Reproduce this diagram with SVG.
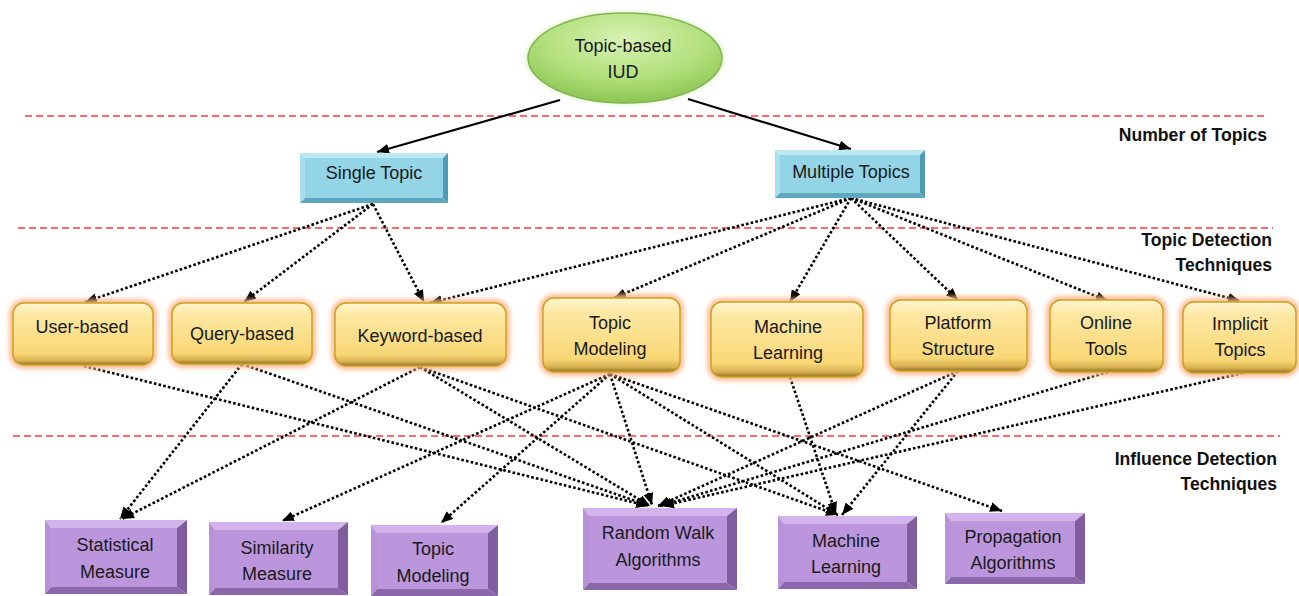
<svg xmlns="http://www.w3.org/2000/svg" width="1299" height="596" viewBox="0 0 1299 596">
<defs>
<linearGradient id="yg" x1="0" y1="0" x2="0" y2="1">
<stop offset="0" stop-color="#fff6d2"/>
<stop offset="0.18" stop-color="#fde8a4"/>
<stop offset="0.82" stop-color="#f8d775"/>
<stop offset="0.93" stop-color="#d9b252"/>
<stop offset="1" stop-color="#8f7028"/>
</linearGradient>
<radialGradient id="gg" cx="0.5" cy="0.3" r="0.7">
<stop offset="0" stop-color="#d8f2b4"/>
<stop offset="0.6" stop-color="#b2e07c"/>
<stop offset="1" stop-color="#8cc653"/>
</radialGradient>
<filter id="blur" x="-20%" y="-20%" width="140%" height="140%"><feGaussianBlur stdDeviation="2.5"/></filter>
<marker id="ah" markerUnits="userSpaceOnUse" markerWidth="13" markerHeight="10" refX="12" refY="5" orient="auto">
<path d="M0,0 L12,5 L0,10 z" fill="#000"/>
</marker>
</defs>
<style>
.t{font-family:"Liberation Sans",Arial,sans-serif;font-size:18px;fill:#1a1a1a;text-anchor:middle}
.lbl{font-family:"Liberation Sans",Arial,sans-serif;font-size:17.6px;font-weight:bold;fill:#111;text-anchor:end}
.sep{stroke:#ff3b3b;stroke-width:1.5;stroke-dasharray:7 4;fill:none}
.glow{fill:none;stroke:#fbb487;stroke-width:7;filter:url(#blur)}
.yb{fill:url(#yg);stroke:#cfa21c;stroke-width:1.5}
.dot{stroke:#000;stroke-width:2.6;stroke-dasharray:2.6 2.2;fill:none;marker-end:url(#ah)}
.sol{stroke:#000;stroke-width:2.2;fill:none;marker-end:url(#ah)}
.pt{fill:#d2b3ec}.pl{fill:#b892d8}.pr{fill:#7f5d9f}.pb{fill:#8a68a9}.pf{fill:#bb96dd}
.bt{fill:#bce8f3}.bl{fill:#a9def0}.br{fill:#4f9bb2}.bb{fill:#5ea8be}.bf{fill:#93d4e6}
</style>

<g id="separators">
<line class="sep" x1="25" y1="116" x2="1265" y2="116"/>
<line class="sep" x1="18" y1="228" x2="1273" y2="228"/>
<line class="sep" x1="13" y1="436" x2="1280" y2="436"/>
</g>

<g id="labels">
<text class="lbl" x="1267" y="141">Number of Topics</text>
<text class="lbl" x="1272" y="246">Topic Detection</text>
<text class="lbl" x="1272" y="271">Techniques</text>
<text class="lbl" x="1277" y="465">Influence Detection</text>
<text class="lbl" x="1277" y="490">Techniques</text>
</g>

<g id="connectors">
<line class="sol" x1="560" y1="100" x2="377" y2="152"/>
<line class="sol" x1="688" y1="99" x2="851" y2="149"/>
<line class="dot" x1="373" y1="204" x2="85" y2="302"/>
<line class="dot" x1="373" y1="204" x2="244" y2="302"/>
<line class="dot" x1="373" y1="204" x2="424" y2="302"/>
<line class="dot" x1="851" y1="198" x2="430" y2="303"/>
<line class="dot" x1="851" y1="198" x2="614" y2="298"/>
<line class="dot" x1="851" y1="198" x2="790" y2="302"/>
<line class="dot" x1="851" y1="198" x2="958" y2="300"/>
<line class="dot" x1="851" y1="198" x2="1108" y2="301"/>
<line class="dot" x1="851" y1="198" x2="1240" y2="301"/>
<line class="dot" x1="84" y1="366" x2="648" y2="506"/>
<line class="dot" x1="242" y1="364" x2="120" y2="519"/>
<line class="dot" x1="242" y1="364" x2="650" y2="506"/>
<line class="dot" x1="420" y1="367" x2="122" y2="519"/>
<line class="dot" x1="420" y1="367" x2="650" y2="506"/>
<line class="dot" x1="420" y1="367" x2="838" y2="515"/>
<line class="dot" x1="610" y1="374" x2="282" y2="521"/>
<line class="dot" x1="610" y1="374" x2="441" y2="523"/>
<line class="dot" x1="610" y1="374" x2="652" y2="505"/>
<line class="dot" x1="610" y1="374" x2="838" y2="515"/>
<line class="dot" x1="610" y1="374" x2="1002" y2="511"/>
<line class="dot" x1="790" y1="377" x2="836" y2="514"/>
<line class="dot" x1="958" y1="371" x2="658" y2="506"/>
<line class="dot" x1="958" y1="371" x2="842" y2="515"/>
<line class="dot" x1="1108" y1="372" x2="660" y2="506"/>
<line class="dot" x1="1243" y1="373" x2="662" y2="506"/>
</g>

<g id="n-root">
<ellipse cx="625" cy="58" rx="99" ry="46" fill="#c8eba0" opacity="0.6" filter="url(#blur)"/>
<ellipse cx="625" cy="58" rx="97" ry="45" fill="url(#gg)" stroke="#7fb450" stroke-width="1.5"/>
<text class="t" x="623" y="52">Topic-based</text>
<text class="t" x="623" y="78">IUD</text>
</g>

<g id="n-single">
<polygon class="bt" points="300,153 448,153 443,158 305,158"/>
<polygon class="bl" points="300,153 305,158 305,198 300,203"/>
<polygon class="br" points="448,153 448,203 443,198 443,158"/>
<polygon class="bb" points="300,203 448,203 443,198 305,198"/>
<rect class="bf" x="305" y="158" width="138" height="40"/>
<text class="t" x="374" y="179">Single Topic</text>
</g>

<g id="n-multiple">
<polygon class="bt" points="775,150 925,150 920,155 780,155"/>
<polygon class="bl" points="775,150 780,155 780,193 775,198"/>
<polygon class="br" points="925,150 925,198 920,193 920,155"/>
<polygon class="bb" points="775,198 925,198 920,193 780,193"/>
<rect class="bf" x="780" y="155" width="140" height="38"/>
<text class="t" x="851" y="178">Multiple Topics</text>
</g>

<g id="n-user">
<rect class="glow" x="13" y="303" width="140" height="62" rx="11"/>
<rect class="yb" x="13" y="303" width="140" height="62" rx="11"/>
<text class="t" x="82" y="333">User-based</text>
</g>
<g id="n-query">
<rect class="glow" x="172" y="303" width="140" height="61" rx="11"/>
<rect class="yb" x="172" y="303" width="140" height="61" rx="11"/>
<text class="t" x="242" y="340">Query-based</text>
</g>
<g id="n-keyword">
<rect class="glow" x="335" y="303" width="171" height="63" rx="11"/>
<rect class="yb" x="335" y="303" width="171" height="63" rx="11"/>
<text class="t" x="420" y="342">Keyword-based</text>
</g>
<g id="n-topicmodeling">
<rect class="glow" x="543" y="298" width="137" height="74" rx="11"/>
<rect class="yb" x="543" y="298" width="137" height="74" rx="11"/>
<text class="t" x="610" y="329">Topic</text>
<text class="t" x="610" y="355">Modeling</text>
</g>
<g id="n-machinelearning">
<rect class="glow" x="711" y="302" width="152" height="75" rx="11"/>
<rect class="yb" x="711" y="302" width="152" height="75" rx="11"/>
<text class="t" x="788" y="333">Machine</text>
<text class="t" x="788" y="359">Learning</text>
</g>
<g id="n-platform">
<rect class="glow" x="890" y="300" width="137" height="71" rx="11"/>
<rect class="yb" x="890" y="300" width="137" height="71" rx="11"/>
<text class="t" x="958" y="329">Platform</text>
<text class="t" x="958" y="355">Structure</text>
</g>
<g id="n-online">
<rect class="glow" x="1050" y="300" width="113" height="72" rx="11"/>
<rect class="yb" x="1050" y="300" width="113" height="72" rx="11"/>
<text class="t" x="1106" y="329">Online</text>
<text class="t" x="1106" y="355">Tools</text>
</g>
<g id="n-implicit">
<rect class="glow" x="1183" y="302" width="113" height="71" rx="11"/>
<rect class="yb" x="1183" y="302" width="113" height="71" rx="11"/>
<text class="t" x="1240" y="330">Implicit</text>
<text class="t" x="1240" y="356">Topics</text>
</g>

<g id="n-statistical">
<polygon class="pt" points="45,520 187,520 177,528 51,528"/>
<polygon class="pl" points="45,520 51,528 51,587 45,594"/>
<polygon class="pr" points="187,520 187,594 177,587 177,528"/>
<polygon class="pb" points="45,594 187,594 177,587 51,587"/>
<rect class="pf" x="51" y="528" width="126" height="59"/>
<text class="t" x="115" y="551">Statistical</text>
<text class="t" x="115" y="578">Measure</text>
</g>
<g id="n-similarity">
<polygon class="pt" points="209,522 348,522 338,530 215,530"/>
<polygon class="pl" points="209,522 215,530 215,588 209,595"/>
<polygon class="pr" points="348,522 348,595 338,588 338,530"/>
<polygon class="pb" points="209,595 348,595 338,588 215,588"/>
<rect class="pf" x="215" y="530" width="123" height="58"/>
<text class="t" x="277" y="554">Similarity</text>
<text class="t" x="277" y="580">Measure</text>
</g>
<g id="n-topicmodeling2">
<polygon class="pt" points="371,525 498,525 488,533 377,533"/>
<polygon class="pl" points="371,525 377,533 377,589 371,596"/>
<polygon class="pr" points="498,525 498,596 488,589 488,533"/>
<polygon class="pb" points="371,596 498,596 488,589 377,589"/>
<rect class="pf" x="377" y="533" width="111" height="56"/>
<text class="t" x="433" y="555">Topic</text>
<text class="t" x="433" y="582">Modeling</text>
</g>
<g id="n-randomwalk">
<polygon class="pt" points="583,508 737,508 727,516 589,516"/>
<polygon class="pl" points="583,508 589,516 589,583 583,590"/>
<polygon class="pr" points="737,508 737,590 727,583 727,516"/>
<polygon class="pb" points="583,590 737,590 727,583 589,583"/>
<rect class="pf" x="589" y="516" width="138" height="67"/>
<text class="t" x="658" y="539">Random Walk</text>
<text class="t" x="658" y="566">Algorithms</text>
</g>
<g id="n-machinelearning2">
<polygon class="pt" points="778,516 917,516 907,524 784,524"/>
<polygon class="pl" points="778,516 784,524 784,582 778,589"/>
<polygon class="pr" points="917,516 917,589 907,582 907,524"/>
<polygon class="pb" points="778,589 917,589 907,582 784,582"/>
<rect class="pf" x="784" y="524" width="123" height="58"/>
<text class="t" x="846" y="547">Machine</text>
<text class="t" x="846" y="573">Learning</text>
</g>
<g id="n-propagation">
<polygon class="pt" points="945,513 1085,513 1075,521 951,521"/>
<polygon class="pl" points="945,513 951,521 951,577 945,584"/>
<polygon class="pr" points="1085,513 1085,584 1075,577 1075,521"/>
<polygon class="pb" points="945,584 1085,584 1075,577 951,577"/>
<rect class="pf" x="951" y="521" width="124" height="56"/>
<text class="t" x="1013" y="543">Propagation</text>
<text class="t" x="1013" y="569">Algorithms</text>
</g>
</svg>
